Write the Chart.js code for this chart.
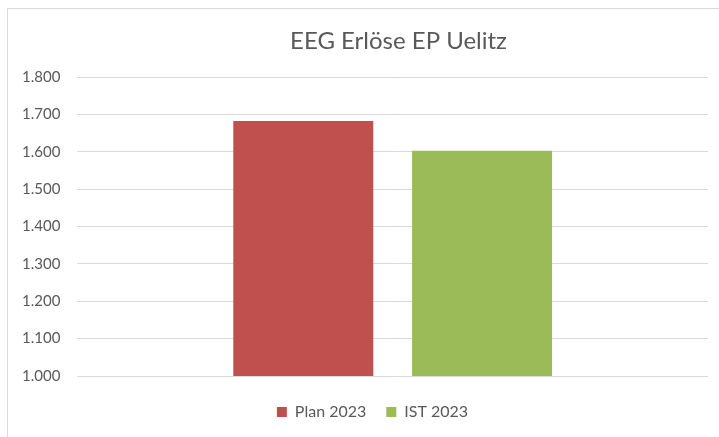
<!DOCTYPE html>
<html>
<head>
<meta charset="utf-8">
<script src="https://cdn.jsdelivr.net/npm/chart.js@4"></script>
<style>
  html, body { margin: 0; padding: 0; background: #fff; }
  .wrap { position: relative; width: 719px; height: 437px; }
  .frame { position: absolute; left: 7px; top: 8px; width: 730px; height: 450px; border-left: 1px solid #d9d9d9; border-top: 1px solid #d9d9d9; }
  canvas { position: absolute; left: 0; top: 0; }
</style>
</head>
<body>
<div class="wrap">
  <div class="frame"></div>
  <canvas id="diagram" width="719" height="437"></canvas>
</div>
<script>
"use strict";
const categories = [""];
const seriesNames = ["Plan 2023", "IST 2023"];
const seriesValues = [[1682], [1603]];
const seriesColors = ["#C0504D", "#9BBB59"];
const titleText = "EEG Erlöse EP Uelitz";

const textColor = "#595959";

// Excel centres the title a bit right of the canvas middle
const excelTitle = {
  id: "excelTitle",
  afterLayout(chart) {
    // legend sits a little right of centre too
    if (chart.legend) {
      chart.legend.left += 16;
      chart.legend.right += 16;
    }
  },
  afterDraw(chart) {
    const c = chart.ctx;
    c.save();
    c.font = "24px Lato";
    c.fillStyle = textColor;
    c.textAlign = "center";
    c.textBaseline = "alphabetic";
    c.fillText(titleText, 398.5, 49);
    c.restore();
  },
};

const ctx = document.querySelector("#diagram").getContext("2d");
new Chart(ctx, {
  type: "bar",
  data: {
    labels: categories,
    datasets: seriesNames.map((name, i) => ({
      label: name,
      data: seriesValues[i],
      backgroundColor: seriesColors[i],
      borderWidth: 0,
      categoryPercentage: 0.567,
      barPercentage: 0.783,
    })),
  },
  options: {
    responsive: false,
    animation: false,
    layout: { padding: { top: 77, right: 11, left: 5, bottom: 7 } },
    plugins: {
      title: { display: false },
      legend: {
        position: "bottom",
        labels: {
          color: textColor,
          font: { family: "Lato", size: 16 },
          boxWidth: 10,
          boxHeight: 10,
          padding: 20,
        },
      },
      tooltip: { enabled: false },
    },
    scales: {
      x: {
        grid: { display: false },
        border: { display: false },
        ticks: { display: false },
        afterFit: (scale) => { scale.height = 8; },
      },
      y: {
        min: 1000,
        max: 1800,
        ticks: {
          stepSize: 100,
          color: textColor,
          padding: 17,
          font: { family: "Lato", size: 15 },
          callback: (v) => v.toLocaleString("de-DE"),
        },
        grid: { color: "#d9d9d9", lineWidth: 1, drawTicks: false },
        border: { display: false },
      },
    },
  },
  plugins: [excelTitle],
});
</script>
</body>
</html>
